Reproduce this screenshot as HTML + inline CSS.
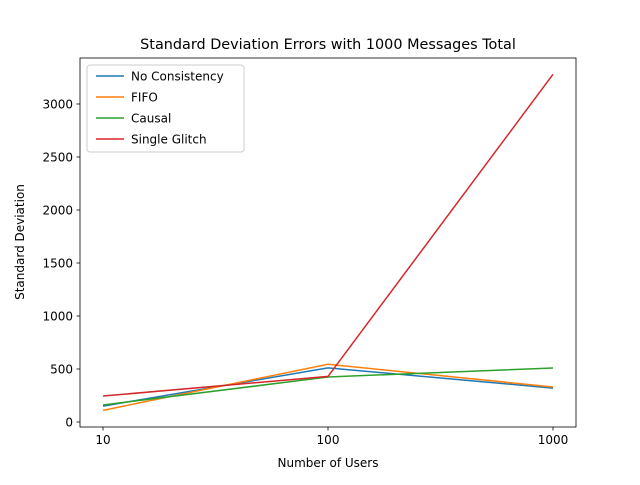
<!DOCTYPE html>
<html><head><meta charset="utf-8"><style>
body{margin:0;background:#fff}
svg text{font-family:"DejaVu Sans","Liberation Sans",sans-serif;fill:#000}
</style></head><body>
<svg id="chart" width="640" height="480">
<rect x="0" y="0" width="640" height="480" fill="#fff"/>
<text x="328" y="49" font-size="14.4" text-anchor="middle">Standard Deviation Errors with 1000 Messages Total</text>
<g id="axes"></g>
<text x="328" y="467" font-size="12" text-anchor="middle">Number of Users</text>
<text transform="translate(24,242) rotate(-90)" font-size="12" text-anchor="middle">Standard Deviation</text>
</svg>
<script>
const categories = [10, 100, 1000];
const seriesNames = ["No Consistency", "FIFO", "Causal", "Single Glitch"];
const noConsistency = [150, 510, 320];
const fifo = [110, 545, 330];
const causal = [160, 425, 510];
const singleGlitch = [245, 430, 3280];
const yTicks = [0, 500, 1000, 1500, 2000, 2500, 3000];
const colors = ["#1f77b4", "#ff7f0e", "#2ca02c", "#d62728"];
const series = [noConsistency, fifo, causal, singleGlitch];

const L=80,R=576,T=58,B=427;
const x = v => 103 + (Math.log10(v) - 1) * 225;
const y = v => 422 - v * 0.106;
const NS="http://www.w3.org/2000/svg";
const g=document.getElementById('axes');
function mk(t,a){const e=document.createElementNS(NS,t);for(const k in a)e.setAttribute(k,a[k]);g.appendChild(e);return e;}

series.forEach((s,i)=>{
  const p=mk('polyline',{points:s.map((v,j)=>x(categories[j])+','+y(v)).join(' '),fill:'none',stroke:colors[i],'stroke-width':1.5});
  
  
});
const frame=mk('rect',{x:L,y:T,width:R-L,height:B-T,fill:'none',stroke:'#000','stroke-width':0.8});



categories.forEach(c=>{
  mk('line',{x1:x(c),x2:x(c),y1:B,y2:B+3.5,stroke:'#000','stroke-width':0.8});
  const t=mk('text',{x:x(c),y:B+17,'font-size':12,'text-anchor':'middle'});t.textContent=c;
  
  
});
yTicks.forEach(v=>{
  mk('line',{x1:L-3.5,x2:L,y1:y(v),y2:y(v),stroke:'#000','stroke-width':0.8});
  const t=mk('text',{x:L-7,y:y(v)+4.5,'font-size':12,'text-anchor':'end'});t.textContent=v;
  
  
});
const lg=mk('rect',{x:87,y:65,width:157,height:87,rx:3,fill:'#fff','fill-opacity':0.8,stroke:'#ccc','stroke-width':1});


seriesNames.forEach((n,i)=>{
  const yy=76+i*21;
  mk('line',{x1:96,x2:124,y1:yy,y2:yy,stroke:colors[i],'stroke-width':1.5});
  const t=mk('text',{x:131,y:yy+4.5,'font-size':12});t.textContent=n;
  
  
});
</script>
</body></html>
